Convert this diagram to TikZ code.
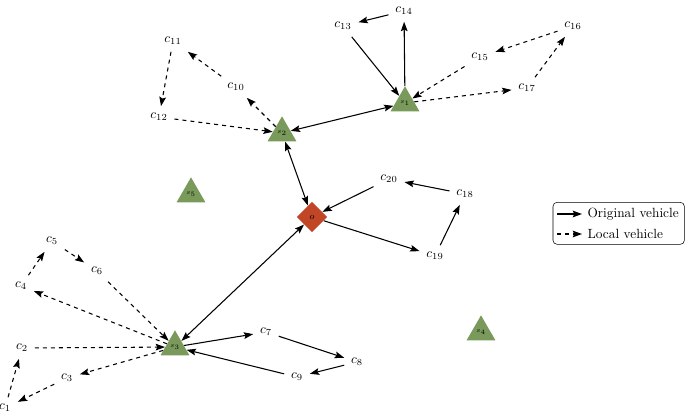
\documentclass[tikz,border=0pt]{standalone}
\usetikzlibrary{arrows.meta,shapes.geometric,fit}
\definecolor{stgreen}{RGB}{122,154,92}
\definecolor{ored}{RGB}{192,70,38}
\tikzset{
	station/.style={regular polygon,regular polygon sides=3,fill=stgreen,inner sep=0pt,minimum size=25pt,font=\tiny},
	origin/.style={diamond,fill=ored,inner sep=0pt,minimum width=23pt,minimum height=23pt,font=\scriptsize},
	cust/.style={inner sep=5pt},
	orig/.style={->,thick},
	loc/.style={->,thick,dashed},
}
\begin{document}
\begin{tikzpicture}[x=0.75pt,y=-0.75pt,>={Stealth[length=7pt,width=5pt,inset=1.2pt]},line join=round]
	\useasboundingbox (0,0) rectangle (685,415);
	% stations and origin
	\node[station] (s1) at (405,103) {$s_1$};
	\node[station] (s2) at (282,133) {$s_2$};
	\node[station] (s3) at (175,347) {$s_3$};
	\node[station] (s4) at (481,332) {$s_4$};
	\node[station] (s5) at (191,194) {$s_5$};
	\node[origin] (o) at (312,217) {$o$};
	% customers
	\node[cust] (c1) at (5,408) {$c_{1}$};
	\node[cust] (c2) at (22,348) {$c_{2}$};
	\node[cust] (c3) at (67,378) {$c_{3}$};
	\node[cust] (c4) at (21,286) {$c_{4}$};
	\node[cust] (c5) at (52,241) {$c_{5}$};
	\node[cust] (c6) at (97,271) {$c_{6}$};
	\node[cust] (c7) at (266,332) {$c_{7}$};
	\node[cust] (c8) at (357,362) {$c_{8}$};
	\node[cust] (c9) at (297,377) {$c_{9}$};
	\node[cust] (c10) at (236,87) {$c_{10}$};
	\node[cust] (c11) at (173,41) {$c_{11}$};
	\node[cust] (c12) at (159,117) {$c_{12}$};
	\node[cust] (c13) at (343,26) {$c_{13}$};
	\node[cust] (c14) at (404,11) {$c_{14}$};
	\node[cust] (c15) at (480,57) {$c_{15}$};
	\node[cust] (c16) at (573,26) {$c_{16}$};
	\node[cust] (c17) at (527,88) {$c_{17}$};
	\node[cust] (c18) at (465,194) {$c_{18}$};
	\node[cust] (c19) at (435,256) {$c_{19}$};
	\node[cust] (c20) at (389,179) {$c_{20}$};
	% original vehicles
	\draw[orig,<->] (s2) -- (s1);
	\draw[orig,<->] (s2) -- (o);
	\draw[orig,<->] (o) -- (s3);
	\draw[orig] (c13) -- (s1);
	\draw[orig] (s1) -- (c14);
	\draw[orig] (c14) -- (c13);
	\draw[orig] (o) -- (c19);
	\draw[orig] (c19) -- (c18);
	\draw[orig] (c18) -- (c20);
	\draw[orig] (c20) -- (o);
	\draw[orig] (s3) -- (c7);
	\draw[orig] (c7) -- (c8);
	\draw[orig] (c8) -- (c9);
	\draw[orig] (c9) -- (s3);
	% local vehicles
	\draw[loc] (s2) -- (c10);
	\draw[loc] (c10) -- (c11);
	\draw[loc] (c11) -- (c12);
	\draw[loc] (c12) -- (s2);
	\draw[loc] (s1) -- (c17);
	\draw[loc] (c17) -- (c16);
	\draw[loc] (c16) -- (c15);
	\draw[loc] (c15) -- (s1);
	\draw[loc] (s3) -- (c3);
	\draw[loc] (c3) -- (c1);
	\draw[loc] (c1) -- (c2);
	\draw[loc] (c2) -- (s3);
	\draw[loc] (s3) -- (c4);
	\draw[loc] (c4) -- (c5);
	\draw[loc] (c5) -- (c6);
	\draw[loc] (c6) -- (s3);
	% legend
	\node[anchor=west,inner sep=1pt] (lgo) at (586,214) {Original vehicle};
	\node[anchor=west,inner sep=1pt] (lgl) at (586,234) {Local vehicle};
	\coordinate (lgoa) at (557,214);
	\coordinate (lgla) at (557,234);
	\draw[orig,shorten >=3pt] (lgoa) -- (lgo.west);
	\draw[loc,shorten >=3pt] (lgla) -- (lgl.west);
	\node[draw,rounded corners=3pt,inner sep=3pt,fit=(lgoa)(lgo)(lgl)(lgla)] (legend) {};
\end{tikzpicture}
\end{document}
